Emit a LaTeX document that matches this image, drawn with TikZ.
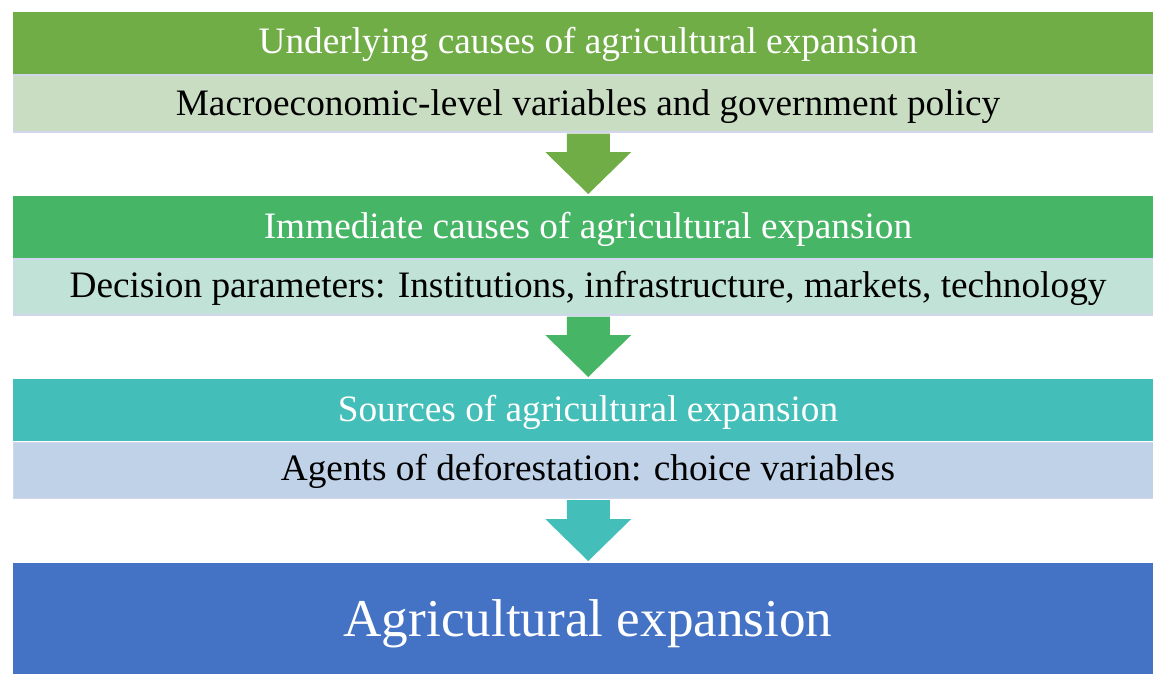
\documentclass[tikz,border=0pt]{standalone}
\usepackage{fontspec}
\setmainfont{Liberation Serif}
\usetikzlibrary{calc}

\definecolor{gOne}{RGB}{112,173,71}
\definecolor{gOneLight}{RGB}{201,221,195}
\definecolor{gTwo}{RGB}{71,181,102}
\definecolor{gTwoLight}{RGB}{193,226,214}
\definecolor{gThree}{RGB}{68,190,184}
\definecolor{gThreeLight}{RGB}{192,210,231}
\definecolor{finalBlue}{RGB}{68,114,196}
\definecolor{edgeLavender}{RGB}{210,214,236}

% block arrow from the bottom of one band to the top of the next
\newcommand\flowarrow[3]{%
  \fill[#1] let \p1=($(#2)+(0,1)$), \p2=($(#3)+(0,-2)$) in
    (\x1-21.5pt,\y1) -- (\x1+21.5pt,\y1) -- (\x1+21.5pt,\y2+42pt) --
    (\x1+43pt,\y2+42pt) -- (\x1,\y2) -- (\x1-43pt,\y2+42pt) --
    (\x1-21.5pt,\y2+42pt) -- cycle;}

\begin{document}
\begin{tikzpicture}[x=1pt,y=-1pt,
  band/.style={fill=#1, draw=none, inner sep=0pt, anchor=north west,
               minimum width=1150pt},
  subband/.style={fill=#1, draw=edgeLavender, line width=1.5pt, inner sep=0pt,
                  anchor=north west, minimum width=1150pt},
  headtext/.style={text=white, anchor=base, inner sep=0pt,
                   font=\fontsize{37.3}{42}\selectfont},
  subtext/.style={text=black, anchor=base, inner sep=0pt,
                  font=\fontsize{37.3}{42}\selectfont},
  bigtext/.style={text=white, anchor=base, inner sep=0pt,
                  font=\fontsize{53.2}{60}\selectfont}]
\clip (0,0) rectangle (1153,673);
\fill[white] (0,0) rectangle (1153,673);

% first tier
\node[band=gOne, minimum height=62pt] (h1) at (13,12) {};
\node[subband=gOneLight, minimum height=57pt] (s1) at (12.5,74) {};
\node[headtext] (t1) at (588,53.3) {Underlying causes of agricultural expansion};
\node[subtext] (u1) at (588,115) {Macroeconomic-level variables and government policy};

% second tier
\node[band=gTwo, minimum height=62pt] (h2) at (13,196) {};
\node[subband=gTwoLight, minimum height=56pt] (s2) at (12.5,258) {};
\node[headtext] (t2) at (588,238.3) {Immediate causes of agricultural expansion};
\node[subtext] (u2) at (588,297) {Decision parameters: Institutions, infrastructure, markets, technology};

% third tier
\node[band=gThree, minimum height=62pt] (h3) at (13,379) {};
\node[subband=gThreeLight, minimum height=56pt] (s3) at (12.5,441.5) {};
\node[headtext] (t3) at (588,421.3) {Sources of agricultural expansion};
\node[subtext] (u3) at (588,480) {Agents of deforestation: choice variables};

% outcome
\node[band=finalBlue, minimum height=120pt] (h4) at (13,563) {};
\node[bigtext] (t4) at (588,636.7) {Agricultural expansion};

% arrows between tiers
\flowarrow{gOne}{s1.south}{h2.north}
\flowarrow{gTwo}{s2.south}{h3.north}
\flowarrow{gThree}{s3.south}{h4.north}
\end{tikzpicture}
\end{document}
